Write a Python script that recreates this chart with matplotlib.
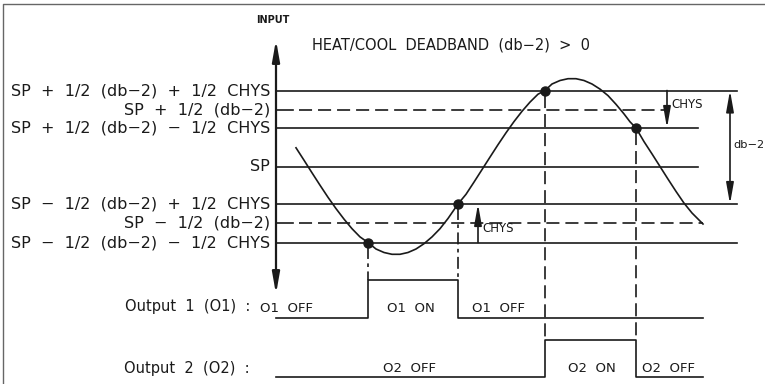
import matplotlib
matplotlib.use('Agg')
import matplotlib.pyplot as plt

plt.rcParams['font.family'] = ['DejaVu Sans']
plt.rcParams['lines.scale_dashes'] = False

# input thresholds (label, level, right end of the line, dashed?)
level_labels = ['SP  +  1/2  (db−2)  +  1/2  CHYS',
                'SP  +  1/2  (db−2)',
                'SP  +  1/2  (db−2)  −  1/2  CHYS',
                'SP',
                'SP  −  1/2  (db−2)  +  1/2  CHYS',
                'SP  −  1/2  (db−2)',
                'SP  −  1/2  (db−2)  −  1/2  CHYS']
level_y = [90.5, 110, 128, 166.5, 204, 223, 242.5]
level_end = [737, 668, 698, 698, 737, 703, 737]
level_dashed = [False, True, False, False, False, True, False]

# input signal
curve_x = [296, 304, 312, 320, 328, 336, 344, 352, 360, 368, 376, 384, 392,
           400, 408, 416, 424, 432, 440, 448, 458, 466, 474, 482, 490, 498,
           506, 514, 522, 530, 538, 545, 552, 560, 568, 576, 584, 592, 600,
           608, 616, 624, 630, 636, 644, 652, 660, 668, 676, 684, 692, 703]
curve_y = [147.8, 160.2, 172.8, 185.2, 197.3, 208.6, 219.1, 228.7, 236.9, 242.5,
           249.0, 252.5, 254.3, 254.3, 252.5, 249.0, 243.7, 236.9, 228.7, 218.5,
           204.0, 194.3, 182.1, 169.6, 157.1, 144.7, 132.8, 121.6, 111.3, 102.1,
           94.2, 90.5, 84.0, 80.5, 78.7, 78.7, 80.5, 84.0, 89.1, 95.6, 104.3,
           113.9, 121.8, 128.0, 141.6, 153.9, 166.5, 179.1, 191.4, 203.1, 213.0,
           224.0]

# switching instants and output states
o1_edges = [276, 368, 458, 703]
o1_state = [0, 1, 0]
o2_edges = [276, 545, 636, 703]
o2_state = [0, 1, 0]
switch_x = [368, 458, 545, 636]
switch_y = [242.5, 204, 90.5, 128]

o1_low, o1_high = 318, 280
o2_low, o2_high = 377, 340

fig = plt.figure(figsize=(7.65, 3.84), dpi=100)
ax = fig.add_axes([0, 0, 1, 1])
ax.set_xlim(0, 765)
ax.set_ylim(384, 0)
ax.axis('off')

ink = '#1a1a1a'
lw = 1.2
dash = (0, (9.4, 4.3))
dashdot = (0, (8.6, 3.2, 2.6, 3.2))

# frame
ax.plot([3.5, 3.5, 765], [384, 3.5, 3.5], color='#666666', lw=1.0)

# vertical input axis
ax.annotate('', xy=(276, 40), xytext=(276, 294),
            arrowprops=dict(arrowstyle='<|-|>,head_length=0.9,head_width=0.16',
                            mutation_scale=14, color=ink, lw=1.6,
                            shrinkA=0, shrinkB=0))
ax.text(273, 20, 'INPUT', fontsize=7, fontweight='bold', ha='center', va='center', color=ink)
ax.text(312, 45, 'HEAT/COOL  DEADBAND  (db−2)  >  0', fontsize=10.5,
        ha='left', va='center', color=ink)

for lab, y, x1, d in zip(level_labels, level_y, level_end, level_dashed):
    if d:
        ax.plot([276, 293], [y, y], color=ink, lw=lw)
        ax.plot([299, x1], [y, y], color=ink, lw=lw, linestyle=dash)
    else:
        ax.plot([276, x1], [y, y], color=ink, lw=lw)
    ax.text(270, y, lab, fontsize=11.5, ha='right', va='center', color=ink)

ax.plot(curve_x, curve_y, color=ink, lw=lw, solid_joinstyle='round')

# drop lines from switching points to the output traces
ax.plot([switch_x[0]] * 2, [switch_y[0] + 4, o1_high], color=ink, lw=lw, linestyle=dashdot)
ax.plot([switch_x[1]] * 2, [switch_y[1] + 4, o1_high], color=ink, lw=lw, linestyle=dashdot)
ax.plot([switch_x[2]] * 2, [switch_y[2] + 4, o2_high], color=ink, lw=lw, linestyle=dash)
ax.plot([switch_x[3]] * 2, [switch_y[3] + 4, o2_high], color=ink, lw=lw, linestyle=dash)
ax.plot(switch_x, switch_y, 'o', color=ink, markersize=6.5, zorder=5)


def trace(edges, states, low, high):
    xs, ys = [], []
    for i, s in enumerate(states):
        y = high if s else low
        xs += [edges[i], edges[i + 1]]
        ys += [y, y]
    ax.plot(xs, ys, color=ink, lw=lw)


trace(o1_edges, o1_state, o1_low, o1_high)
trace(o2_edges, o2_state, o2_low, o2_high)

ax.text(250, 307, 'Output  1  (O1)  :', fontsize=10.5, ha='right', va='center', color=ink)
ax.text(250, 368, 'Output  2  (O2)  :', fontsize=10.5, ha='right', va='center', color=ink)
for x, y, s in [(260, 308, 'O1  OFF'), (387, 308, 'O1  ON'), (472, 308, 'O1  OFF'),
                (383, 368, 'O2  OFF'), (568, 368, 'O2  ON'), (642, 368, 'O2  OFF')]:
    ax.text(x, y, s, fontsize=9.5, ha='left', va='center', color=ink)

# CHYS and deadband dimension arrows
arr = dict(arrowstyle='-|>,head_length=0.9,head_width=0.16', mutation_scale=14,
           color=ink, lw=lw, shrinkA=0, shrinkB=0)
ax.annotate('', xy=(667, level_y[2]), xytext=(667, level_y[0]), arrowprops=arr)
ax.text(671, 104, 'CHYS', fontsize=8.5, ha='left', va='center', color=ink)
ax.annotate('', xy=(478, level_y[4]), xytext=(478, level_y[6]), arrowprops=arr)
ax.text(482, 229, 'CHYS', fontsize=8.5, ha='left', va='center', color=ink)
ax.annotate('', xy=(730, level_y[0]), xytext=(730, level_y[4]),
            arrowprops=dict(arr, arrowstyle='<|-|>,head_length=0.9,head_width=0.16'))
ax.text(733, 145, 'db−2', fontsize=8.2, ha='left', va='center', color=ink)

fig.savefig('out.png', dpi=100)
